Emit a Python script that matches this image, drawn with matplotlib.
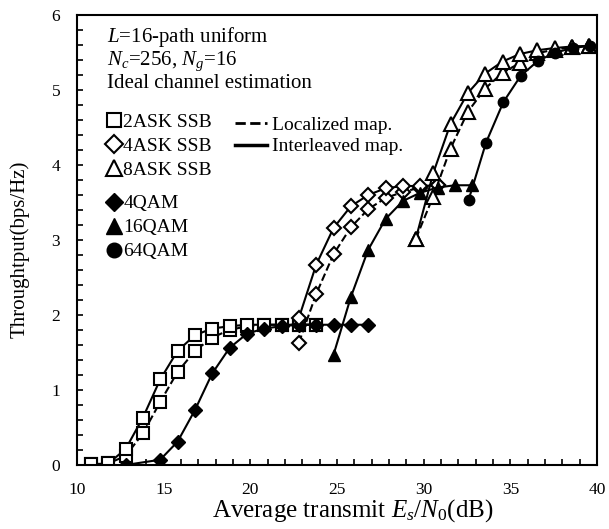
import matplotlib
matplotlib.use("Agg")
import matplotlib.pyplot as plt
from matplotlib.lines import Line2D
from matplotlib.ticker import MultipleLocator

plt.rcParams['font.family'] = ['Liberation Serif', 'DejaVu Serif']
plt.rcParams['mathtext.fontset'] = 'custom'
plt.rcParams['mathtext.rm'] = 'Liberation Serif'
plt.rcParams['mathtext.it'] = 'Liberation Serif:italic'

# ---------------- data ----------------
snr_2ask = [10.8, 11.8, 12.8, 13.8, 14.8, 15.8, 16.8, 17.8, 18.8, 19.8, 20.8, 21.8, 22.8, 23.8]
ask2_int = [0.01, 0.02, 0.21, 0.63, 1.14, 1.52, 1.73, 1.82, 1.85, 1.87, 1.87, 1.87, 1.87, 1.87]
ask2_loc = [0.01, 0.02, 0.12, 0.42, 0.84, 1.24, 1.52, 1.70, 1.80, 1.85, 1.87, 1.87, 1.87, 1.87]

snr_4ask = [22.8, 23.8, 24.8, 25.8, 26.8, 27.8, 28.8, 29.8, 30.8]
ask4_int = [1.96, 2.67, 3.16, 3.45, 3.60, 3.69, 3.72, 3.72, 3.73]
ask4_loc = [1.63, 2.28, 2.81, 3.17, 3.41, 3.56, 3.64, 3.70, 3.73]

snr_8ask = [29.55, 30.55, 31.55, 32.55, 33.55, 34.55, 35.55, 36.55, 37.55, 38.55, 39.55]
ask8_int = [3.02, 3.89, 4.55, 4.96, 5.22, 5.38, 5.48, 5.53, 5.56, 5.58, 5.59]
ask8_loc = [3.02, 3.58, 4.22, 4.71, 5.02, 5.23, 5.36, 5.49, 5.54, 5.57, 5.59]

snr_4qam = [12.8, 14.8, 15.8, 16.8, 17.8, 18.8, 19.8, 20.8, 21.8, 22.8, 23.8, 24.8, 25.8, 26.8]
qam4 = [0.0, 0.07, 0.31, 0.73, 1.22, 1.56, 1.75, 1.82, 1.85, 1.87, 1.87, 1.87, 1.87, 1.87]

snr_16qam = [24.8, 25.8, 26.8, 27.8, 28.8, 29.8, 30.8, 31.8, 32.8]
qam16 = [1.47, 2.24, 2.87, 3.28, 3.52, 3.63, 3.70, 3.73, 3.73]

snr_64qam = [32.6, 33.6, 34.6, 35.6, 36.6, 37.6, 38.6, 39.6]
qam64 = [3.54, 4.30, 4.84, 5.19, 5.39, 5.50, 5.56, 5.59]

x_ticks = [10, 15, 20, 25, 30, 35, 40]
y_ticks = [0, 1, 2, 3, 4, 5, 6]

# ---------------- figure ----------------
fig = plt.figure(figsize=(6.09, 5.29), dpi=100)
ax = fig.add_axes([0.1264, 0.121, 0.8539, 0.8506])

lw = 1.5
mew = 1.5
open_kw = dict(color='black', markerfacecolor='white', markeredgecolor='black',
               markeredgewidth=mew, lw=lw)
fill_kw = dict(color='black', markerfacecolor='black', markeredgecolor='black', lw=lw)

ax.plot(snr_2ask, ask2_loc, ls='--', marker='s', markersize=8, **open_kw)
ax.plot(snr_2ask, ask2_int, ls='-', marker='s', markersize=8, **open_kw)
ax.plot(snr_4qam, qam4, ls='-', marker='D', markersize=7, **fill_kw)
ax.plot(snr_4ask, ask4_loc, ls='--', marker='D', markersize=7.5, **open_kw)
ax.plot(snr_4ask, ask4_int, ls='-', marker='D', markersize=7.5, **open_kw)
ax.plot(snr_16qam, qam16, ls='-', marker='^', markersize=8.5, **fill_kw)
ax.plot(snr_8ask, ask8_loc, ls='--', marker='^', markersize=9.5, **open_kw)
ax.plot(snr_8ask, ask8_int, ls='-', marker='^', markersize=9.5, **open_kw)
ax.plot(snr_64qam, qam64, ls='-', marker='o', markersize=7.5, **fill_kw)

ax.set_xlim(10, 40)
ax.set_ylim(0, 6)
ax.set_xticks(x_ticks)
ax.set_yticks(y_ticks)
ax.xaxis.set_minor_locator(MultipleLocator(1))
ax.yaxis.set_minor_locator(MultipleLocator(0.2))
ax.tick_params(which='both', direction='in', top=False, right=False,
               labelsize=12.5, width=1.2, length=4.5)
ax.tick_params(axis='x', pad=12.5)
ax.tick_params(axis='y', pad=12)
for s in ax.spines.values():
    s.set_linewidth(1.5)

ax.set_xlabel('Average transmit $E_s$/$N_0$(dB)', fontsize=18)
ax.xaxis.set_label_coords(0.531, -0.072)
ax.set_ylabel('Throughtput(bps/Hz)', fontsize=15)
ax.yaxis.set_label_coords(-0.091, 0.48)

# annotation text
tfs = 15
ax.text(0.057, 0.952, '$L$=16-path uniform', transform=ax.transAxes, fontsize=tfs, va='center')
ax.text(0.057, 0.898, '$N_c$=256, $N_g$=16', transform=ax.transAxes, fontsize=tfs, va='center')
ax.text(0.057, 0.848, 'Ideal channel estimation', transform=ax.transAxes, fontsize=tfs, va='center')

# legends
lfs = 14
leg_kw = dict(frameon=False, fontsize=lfs, handlelength=0.5, handletextpad=0.23,
              labelspacing=0.33, borderaxespad=0, borderpad=0)
h1 = [Line2D([], [], ls='none', marker='s', markerfacecolor='white', markeredgecolor='black', markeredgewidth=mew, markersize=10),
      Line2D([], [], ls='none', marker='D', markerfacecolor='white', markeredgecolor='black', markeredgewidth=mew, markersize=9),
      Line2D([], [], ls='none', marker='^', markerfacecolor='white', markeredgecolor='black', markeredgewidth=mew, markersize=11)]
leg1 = ax.legend(h1, ['2ASK SSB', '4ASK SSB', '8ASK SSB'], loc='upper left',
                 bbox_to_anchor=(0.0618, 0.782), **leg_kw)
ax.add_artist(leg1)
h2 = [Line2D([], [], ls='none', marker='D', color='black', markersize=9.5),
      Line2D([], [], ls='none', marker='^', color='black', markersize=11),
      Line2D([], [], ls='none', marker='o', color='black', markersize=10.5)]
leg2 = ax.legend(h2, ['4QAM', '16QAM', '64QAM'], loc='upper left',
                 bbox_to_anchor=(0.0618, 0.6007), **leg_kw)
ax.add_artist(leg2)
h3 = [Line2D([], [], ls='--', color='black', lw=2),
      Line2D([], [], ls='-', color='black', lw=2.5)]
leg3 = ax.legend(h3, ['Localized map.', 'Interleaved map.'], loc='upper left',
                 bbox_to_anchor=(0.3038, 0.7749),
                 **{**leg_kw, 'handlelength': 1.63, 'handletextpad': 0.26,
                    'labelspacing': 0.2})

fig.savefig('out.png', dpi=100)
